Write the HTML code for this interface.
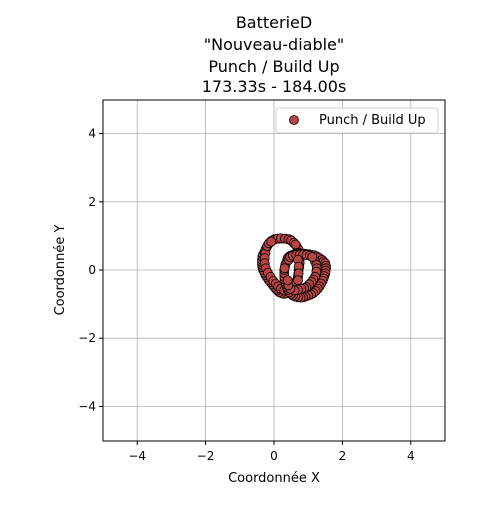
<!DOCTYPE html>
<html><head><meta charset="utf-8"><style>
body{margin:0;background:#fff;}
svg{font-family:"DejaVu Sans","Liberation Sans",sans-serif;}
</style></head><body>
<svg width="500" height="500">
<g id="title" font-size="16" text-anchor="middle" fill="#000">
<text x="274" y="28">BatterieD</text>
<text x="274" y="50">"Nouveau-diable"</text>
<text x="274" y="72">Punch / Build Up</text>
<text x="274" y="92">173.33s - 184.00s</text>
</g>
<g id="grid"></g>
<g id="pts"></g>
<rect x="103" y="100" width="342" height="341" fill="none" stroke="#000" stroke-width="1"/>
<g id="ticks" font-size="12"></g>
<text x="274" y="482" text-anchor="middle" font-size="13">Coordonnée X</text>
<text transform="translate(64,270) rotate(-90)" text-anchor="middle" font-size="13">Coordonnée Y</text>
<g>
<rect x="276" y="108" width="162" height="25" rx="3" fill="#fff" stroke="#ccc" opacity="0.9"/>
<circle cx="294" cy="120" r="4.5" fill="#b84444" stroke="#000" stroke-width="0.8"/>
<text x="319" y="124" font-size="13">Punch / Build Up</text>
</g>
</svg>
<script>
const xTicks=[-4,-2,0,2,4];
const yTicks=[-4,-2,0,2,4];
const xs=[0,0.07,0.15,0.22,0.3,0.38,0.45,0.5,0.55,0.6,0.65,0.68,0.72,0.74,0.75,0.75,0.75,0.74,0.72,0.71,0.7,0.68,0.65,0.6,0.55,0.5,0.45,0.38,0.3,0.22,0.15,0.1,0.05,0,-0.05,-0.1,-0.15,-0.2,-0.25,-0.28,-0.32,-0.34,-0.35,-0.35,-0.35,-0.34,-0.32,-0.28,-0.25,-0.21,-0.17,-0.12,-0.08,
-0.02,0.1,0.2,0.32,0.42,0.5,0.58,0.63,-0.25,-0.27,-0.27,-0.24,-0.18,-0.1,-0.02,0.05,0.12,0.2,0.3,0.4,0.48,0.55,-0.2,-0.15,-0.08,
0.32,0.33,0.35,0.38,0.4,0.45,0.5,0.57,0.65,0.72,0.8,0.88,0.95,1.02,1.1,1.18,1.25,1.32,1.4,1.45,1.5,1.52,1.52,1.51,1.5,1.47,1.45,1.42,1.38,1.33,1.28,1.22,1.15,1.08,1.0,0.92,0.85,0.78,0.7,0.62,0.55,0.5,0.45,0.42,0.38,0.35,0.33,0.31,0.3,0.3,0.3,0.31,
1.2,1.24,1.25,1.24,1.2,1.15,1.1,1.03,0.95,0.88,0.8,0.7,0.6,0.48,0.42,0.4,0.43,0.47,0.55,0.65,0.75,0.85,0.95,1.05,1.12,0.7,0.72,0.72,0.7];
const ys=[0.9,0.91,0.92,0.92,0.92,0.91,0.9,0.86,0.82,0.77,0.72,0.66,0.6,0.5,0.4,0.3,0.2,0.1,0,-0.1,-0.2,-0.3,-0.4,-0.48,-0.55,-0.6,-0.65,-0.68,-0.7,-0.68,-0.65,-0.6,-0.55,-0.49,-0.42,-0.36,-0.3,-0.22,-0.15,-0.08,0,0.08,0.15,0.22,0.3,0.38,0.45,0.52,0.6,0.67,0.75,0.8,0.85,
0.88,0.92,0.93,0.92,0.9,0.87,0.8,0.75,0.5,0.35,0.2,0.05,-0.08,-0.2,-0.32,-0.4,-0.48,-0.55,-0.6,-0.58,-0.5,-0.45,0.7,0.78,0.83,
0.1,0.15,0.2,0.28,0.35,0.4,0.43,0.45,0.47,0.48,0.48,0.48,0.47,0.46,0.45,0.43,0.4,0.36,0.3,0.25,0.2,0.12,0.05,-0.02,-0.1,-0.18,-0.25,-0.32,-0.4,-0.48,-0.55,-0.62,-0.68,-0.72,-0.75,-0.78,-0.8,-0.81,-0.8,-0.78,-0.75,-0.7,-0.65,-0.58,-0.5,-0.42,-0.35,-0.28,-0.2,-0.1,0,0.05,
0.25,0.15,0.05,-0.05,-0.2,-0.28,-0.35,-0.42,-0.5,-0.53,-0.55,-0.58,-0.6,-0.55,-0.45,-0.3,0.3,0.38,0.42,0.44,0.45,0.45,0.44,0.42,0.38,0.3,0.1,-0.1,-0.3];
const NS="http://www.w3.org/2000/svg";
const X=v=>274+v*34.2, Y=v=>270-v*34.1;
const grid=document.getElementById('grid'),tk=document.getElementById('ticks'),pts=document.getElementById('pts');
function mk(tag,a,p){const e=document.createElementNS(NS,tag);for(const k in a)e.setAttribute(k,a[k]);p.appendChild(e);return e;}
xTicks.forEach(t=>{
 const l=mk('line',{x1:X(t),x2:X(t),y1:100,y2:441,stroke:'#b0b0b0','stroke-width':0.8},grid);
 
 
 mk('line',{x1:X(t),x2:X(t),y1:441,y2:445,stroke:'#000'},tk);
 const s=mk('text',{x:X(t),y:460,'text-anchor':'middle'},tk);s.textContent=(t<0?'\u2212':'')+Math.abs(t);
 
 
});
yTicks.forEach(t=>{
 const l=mk('line',{x1:103,x2:445,y1:Y(t),y2:Y(t),stroke:'#b0b0b0','stroke-width':0.8},grid);
 
 
 mk('line',{x1:99,x2:103,y1:Y(t),y2:Y(t),stroke:'#000'},tk);
 const s=mk('text',{x:96,y:Y(t)+4,'text-anchor':'end'},tk);s.textContent=(t<0?'\u2212':'')+Math.abs(t);
 
 
});
xs.forEach((v,i)=>{
 const c=mk('circle',{cx:X(v),cy:Y(ys[i]),r:4.5,fill:'#b84444',stroke:'#000','stroke-width':0.8},pts);
 
 
});
</script>
</body></html>
